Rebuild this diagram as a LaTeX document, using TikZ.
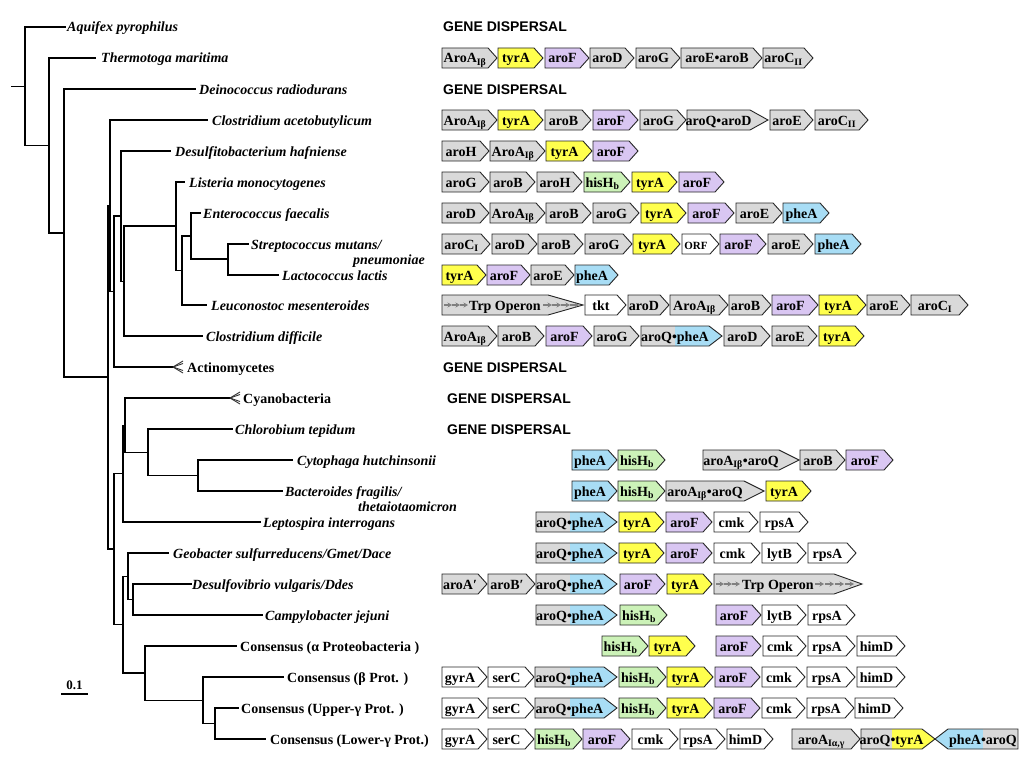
\documentclass[tikz,border=0pt]{standalone}
\usepackage{fontspec}
\setmainfont{Liberation Serif}
\newfontfamily\dispfont{Liberation Sans}
\usetikzlibrary{arrows.meta}
\definecolor{gr}{HTML}{D9D9D9}
\definecolor{ye}{HTML}{FFFF4D}
\definecolor{pu}{HTML}{D9C6F2}
\definecolor{gn}{HTML}{CCF2B8}
\definecolor{bl}{HTML}{A8DDF5}
\definecolor{wh}{HTML}{FFFFFF}
\newcounter{gc}
\newlength\wa
\newlength\wb
\newcommand{\sub}[1]{\textsubscript{#1}}
\newcommand{\genefont}{\fontsize{14}{16}\selectfont\bfseries}
\tikzset{
 tree/.style={line width=1.3pt, black, line cap=rect},
 gene/.style={draw=black!85, line width=0.9pt, line join=miter},
 genetext/.style={inner sep=0pt, anchor=base, font=\genefont},
 taxon/.style={inner sep=0pt, anchor=base west, font=\fontsize{14}{16}\selectfont\bfseries\itshape},
 grouplab/.style={inner sep=0pt, anchor=base west, font=\fontsize{14}{16}\selectfont\bfseries},
 disp/.style={inner sep=0pt, anchor=base west, font=\dispfont\fontsize{14}{16}\selectfont\bfseries},
 trparrow/.style={-{Stealth[length=4.5pt,width=5pt]}, black!50, line width=1.4pt},
 fan/.style={black!80, line width=0.9pt},
}
% plain gene box: [tip]{x1}{x2}{y}{colour}{text}
\newcommand{\gb}[6][9]{%
 \stepcounter{gc}%
 \draw[gene, fill=#5] (#2,#4-10) -- (#3-#1,#4-10) -- (#3,#4) -- (#3-#1,#4+10) -- (#2,#4+10) -- cycle;
 \node[genetext] (g\thegc) at ({(#2+#3-#1)/2},#4+5) {#6};}
% two-colour gene box pointing right: [tip]{x1}{x2}{y}{c1}{c2}{word1}{word2}
\newcommand{\gbt}[8][13]{%
 \stepcounter{gc}%
 \settowidth\wa{\genefont #7}\settowidth\wb{\genefont #7#8}%
 \pgfmathsetmacro\cx{(#2+#3-#1)/2}%
 \pgfmathsetmacro\sx{\cx-\wb/2+\wa}%
 \begin{scope}
 \clip (#2,#4-10) -- (#3-#1,#4-10) -- (#3,#4) -- (#3-#1,#4+10) -- (#2,#4+10) -- cycle;
 \fill[#5] (#2,#4-11) rectangle (\sx,#4+11);
 \fill[#6] (\sx,#4-11) rectangle (#3,#4+11);
 \end{scope}
 \draw[gene] (#2,#4-10) -- (#3-#1,#4-10) -- (#3,#4) -- (#3-#1,#4+10) -- (#2,#4+10) -- cycle;
 \node[genetext] (g\thegc) at (\cx,#4+5) {#7#8};}
% two-colour gene box pointing left: [tip]{x1 tip}{x2}{y}{c1}{c2}{word1}{word2}
\newcommand{\gbl}[8][13]{%
 \stepcounter{gc}%
 \settowidth\wa{\genefont #7}\settowidth\wb{\genefont #7#8}%
 \pgfmathsetmacro\cx{(#2+#1+#3)/2}%
 \pgfmathsetmacro\sx{\cx-\wb/2+\wa}%
 \begin{scope}
 \clip (#2,#4) -- (#2+#1,#4-10) -- (#3,#4-10) -- (#3,#4+10) -- (#2+#1,#4+10) -- cycle;
 \fill[#5] (#2,#4-11) rectangle (\sx,#4+11);
 \fill[#6] (\sx,#4-11) rectangle (#3,#4+11);
 \end{scope}
 \draw[gene] (#2,#4) -- (#2+#1,#4-10) -- (#3,#4-10) -- (#3,#4+10) -- (#2+#1,#4+10) -- cycle;
 \node[genetext] (g\thegc) at (\cx,#4+5) {#7#8};}
% Trp operon box outline: {x1}{x2}{y}{tip}
\newcommand{\trpbox}[4]{%
 \stepcounter{gc}%
 \draw[gene, fill=gr] (#1,#3-10) -- (#2-#4,#3-10) -- (#2,#3) -- (#2-#4,#3+10) -- (#1,#3+10) -- cycle;}
\begin{document}
\begin{tikzpicture}[x=1pt,y=-1pt]
\useasboundingbox (0,0) rectangle (1024,768);
\fill[white] (0,0) rectangle (1024,768);

% ---------------- tree ----------------
\draw[tree] (12,86.25) -- (25,86.25);
\draw[tree] (65,27) -- (25,27) -- (25,145.5) -- (49,145.5);
\draw[tree] (95,58) -- (49,58) -- (49,233) -- (64,233);
\draw[tree] (195,89) -- (64,89) -- (64,377) -- (108,377);
\draw[tree] (110,205.5) -- (108,205.5) -- (108,549) -- (114,549);
\draw[tree] (207,120) -- (110,120) -- (110,291.5) -- (114,291.5);
\draw[tree] (121,216) -- (114,216) -- (114,367) -- (173,367);
\draw[tree] (170,151) -- (121,151) -- (121,281.5) -- (124,281.5);
\draw[tree] (176,226) -- (124,226) -- (124,336) -- (202,336);
\draw[tree] (184,182) -- (176,182) -- (176,270.5) -- (182,270.5);
\draw[tree] (191,236) -- (182,236) -- (182,305) -- (206,305);
\draw[tree] (200,213) -- (191,213) -- (191,259) -- (228,259);
\draw[tree] (248,244) -- (228,244) -- (228,275) -- (278,275);
\draw[tree] (123,473.5) -- (114,473.5) -- (114,624.5) -- (123,624.5);
\draw[tree] (125,425.25) -- (123,425.25) -- (123,522) -- (260,522);
\draw[tree] (230,398) -- (125,398) -- (125,452.25) -- (148,452.25);
\draw[tree] (232,429) -- (148,429) -- (148,475.5) -- (198,475.5);
\draw[tree] (292,460) -- (198,460) -- (198,491) -- (282,491);
\draw[tree] (128,576.25) -- (123,576.25) -- (123,673) -- (145,673);
\draw[tree] (168,553) -- (128,553) -- (128,599.5) -- (133,599.5);
\draw[tree] (191,584) -- (133,584) -- (133,615) -- (262,615);
\draw[tree] (236,646) -- (145,646) -- (145,700.25) -- (203,700.25);
\draw[tree] (283,677) -- (203,677) -- (203,723.5) -- (215,723.5);
\draw[tree] (238,708) -- (215,708) -- (215,739) -- (265,739);
% collapsed clades
\foreach \d in {-6,-3.5,3.5,6} {\draw[fan] (173,367) -- (183,367+\d);}
\foreach \d in {-6,-3.5,3.5,6} {\draw[fan] (230,398) -- (240,398+\d);}

% ---------------- taxon labels ----------------
\node[taxon] (t1) at (67,32) {Aquifex pyrophilus};
\node[taxon] (t2) at (101,63) {Thermotoga maritima};
\node[taxon] (t3) at (199,94) {Deinococcus radiodurans};
\node[taxon] (t4) at (212,125) {Clostridium acetobutylicum};
\node[taxon] (t5) at (175,156) {Desulfitobacterium hafniense};
\node[taxon] (t6) at (189,187) {Listeria monocytogenes};
\node[taxon] (t7) at (203,218) {Enterococcus faecalis};
\node[taxon] (t8) at (251,249) {Streptococcus mutans/};
\node[taxon] (t8b) at (353,264) {pneumoniae};
\node[taxon] (t9) at (282,280) {Lactococcus lactis};
\node[taxon] (t10) at (211,310) {Leuconostoc mesenteroides};
\node[taxon] (t11) at (206,341) {Clostridium difficile};
\node[grouplab] (t12) at (187,372) {Actinomycetes};
\node[grouplab] (t13) at (243,403) {Cyanobacteria};
\node[taxon] (t14) at (235,434) {Chlorobium tepidum};
\node[taxon] (t15) at (297,465) {Cytophaga hutchinsonii};
\node[taxon] (t16) at (285,496) {Bacteroides fragilis/};
\node[taxon] (t16b) at (358,511) {thetaiotaomicron};
\node[taxon] (t17) at (263,527) {Leptospira interrogans};
\node[taxon] (t18) at (173,558) {Geobacter sulfurreducens/Gmet/Dace};
\node[taxon] (t19) at (192,589) {Desulfovibrio vulgaris/Ddes};
\node[taxon] (t20) at (265,620) {Campylobacter jejuni};
\node[grouplab] (t21) at (240,651) {Consensus (α Proteobacteria )};
\node[grouplab] (t22) at (287,682) {Consensus (β Prot. )};
\node[grouplab] (t23) at (241,713) {Consensus (Upper-γ Prot. )};
\node[grouplab] (t24) at (270,744) {Consensus (Lower-γ Prot.)};
% scale bar
\node[inner sep=0pt, anchor=base, font=\fontsize{13}{15}\selectfont\bfseries] (sc) at (74.5,689) {0.1};
\draw[line width=1.2pt] (61,694) -- (88,694);

% ---------------- gene dispersal ----------------
\node[disp] (d1) at (443,32) {GENE DISPERSAL};
\node[disp] (d2) at (443,94) {GENE DISPERSAL};
\node[disp] (d3) at (443,372) {GENE DISPERSAL};
\node[disp] (d4) at (447,403) {GENE DISPERSAL};
\node[disp] (d5) at (447,434) {GENE DISPERSAL};

% ---------------- gene rows ----------------
% Thermotoga
\gb{442}{497}{58}{gr}{AroA\sub{Iβ}}
\gb{498}{543}{58}{ye}{tyrA}
\gb{545}{589}{58}{pu}{aroF}
\gb{590}{634}{58}{gr}{aroD}
\gb{636}{680}{58}{gr}{aroG}
\gb{681}{762}{58}{gr}{aroE•aroB}
\gb{763}{813}{58}{gr}{aroC\sub{II}}
% Clostridium acetobutylicum
\gb{442}{497}{120}{gr}{AroA\sub{Iβ}}
\gb{498}{543}{120}{ye}{tyrA}
\gb{545}{591}{120}{gr}{aroB}
\gb{593}{638}{120}{pu}{aroF}
\gb{640}{686}{120}{gr}{aroG}
\gb[18]{687}{768}{120}{gr}{aroQ•aroD}
\gb{770}{813}{120}{gr}{aroE}
\gb{815}{868}{120}{gr}{aroC\sub{II}}
% Desulfitobacterium
\gb{442}{489}{151}{gr}{aroH}
\gb{490}{545}{151}{gr}{AroA\sub{Iβ}}
\gb{546}{592}{151}{ye}{tyrA}
\gb{593}{638}{151}{pu}{aroF}
% Listeria
\gb{442}{489}{182}{gr}{aroG}
\gb{490}{535}{182}{gr}{aroB}
\gb{537}{582}{182}{gr}{aroH}
\gb{584}{630}{182}{gn}{hisH\sub{b}}
\gb{632}{677}{182}{ye}{tyrA}
\gb{679}{724}{182}{pu}{aroF}
% Enterococcus
\gb{442}{489}{213}{gr}{aroD}
\gb{490}{545}{213}{gr}{AroA\sub{Iβ}}
\gb{546}{591}{213}{gr}{aroB}
\gb{593}{639}{213}{gr}{aroG}
\gb{641}{686}{213}{ye}{tyrA}
\gb{688}{734}{213}{pu}{aroF}
\gb{736}{782}{213}{gr}{aroE}
\gb{783}{829}{213}{bl}{pheA}
% Streptococcus
\gb{442}{490}{244}{gr}{aroC\sub{I}}
\gb{492}{537}{244}{gr}{aroD}
\gb{538}{583}{244}{gr}{aroB}
\gb{585}{632}{244}{gr}{aroG}
\gb{633}{680}{244}{ye}{tyrA}
\gb{682}{719}{244}{wh}{\fontsize{11}{12}\selectfont ORF}
\gb{720}{766}{244}{pu}{aroF}
\gb{768}{813}{244}{gr}{aroE}
\gb{815}{861}{244}{bl}{pheA}
% Lactococcus
\gb{442}{486}{275}{ye}{tyrA}
\gb{487}{530}{275}{pu}{aroF}
\gb{531}{574}{275}{gr}{aroE}
\gb{575}{618}{275}{bl}{pheA}
% Leuconostoc
\trpbox{442}{583}{305}{35}
\node[genetext, anchor=base west] (trp1) at (469,310) {Trp Operon};
\foreach \a in {444,452,460} {\draw[trparrow] (\a,305) -- ++(8,0);}
\foreach \a in {543,552,561,570} {\draw[trparrow] (\a,305) -- ++(9,0);}
\gb{585}{626}{305}{wh}{tkt}
\gb{628}{669}{305}{gr}{aroD}
\gb{670}{728}{305}{gr}{AroA\sub{Iβ}}
\gb{729}{771}{305}{gr}{aroB}
\gb{772}{818}{305}{pu}{aroF}
\gb{819}{866}{305}{ye}{tyrA}
\gb{867}{910}{305}{gr}{aroE}
\gb{911}{968}{305}{gr}{aroC\sub{I}}
% Clostridium difficile
\gb{442}{497}{336}{gr}{AroA\sub{Iβ}}
\gb{498}{544}{336}{gr}{aroB}
\gb{546}{592}{336}{pu}{aroF}
\gb{594}{639}{336}{gr}{aroG}
\gbt{641}{722}{336}{gr}{bl}{aroQ•}{pheA}
\gb{724}{770}{336}{gr}{aroD}
\gb{772}{817}{336}{gr}{aroE}
\gb{819}{864}{336}{ye}{tyrA}
% Cytophaga
\gb{572}{617}{460}{bl}{pheA}
\gb{618}{665}{460}{gn}{hisH\sub{b}}
\gb[20]{703}{799}{460}{gr}{aroA\sub{Iβ}•aroQ}
\gb{800}{845}{460}{gr}{aroB}
\gb{846}{893}{460}{pu}{aroF}
% Bacteroides
\gb{572}{617}{491}{bl}{pheA}
\gb{618}{665}{491}{gn}{hisH\sub{b}}
\gb[20]{666}{764}{491}{gr}{aroA\sub{Iβ}•aroQ}
\gb{766}{811}{491}{ye}{tyrA}
% Leptospira
\gbt{536}{617}{522}{gr}{bl}{aroQ•}{pheA}
\gb{619}{664}{522}{ye}{tyrA}
\gb{666}{712}{522}{pu}{aroF}
\gb{714}{758}{522}{wh}{cmk}
\gb{760}{808}{522}{wh}{rpsA}
% Geobacter
\gbt{536}{617}{553}{gr}{bl}{aroQ•}{pheA}
\gb{619}{664}{553}{ye}{tyrA}
\gb{666}{712}{553}{pu}{aroF}
\gb{714}{760}{553}{wh}{cmk}
\gb{762}{806}{553}{wh}{lytB}
\gb{808}{856}{553}{wh}{rpsA}
% Desulfovibrio
\gb{442}{487}{584}{gr}{aroA′}
\gb{488}{535}{584}{gr}{aroB′}
\gbt{536}{617}{584}{gr}{bl}{aroQ•}{pheA}
\gb{620}{665}{584}{pu}{aroF}
\gb{667}{712}{584}{ye}{tyrA}
\trpbox{714}{862}{584}{28}
\node[genetext, anchor=base west] (trp2) at (742,589) {Trp Operon};
\foreach \a in {716,724,732} {\draw[trparrow] (\a,584) -- ++(8,0);}
\foreach \a in {815,825,835,845} {\draw[trparrow] (\a,584) -- ++(9,0);}
% Campylobacter
\gbt{536}{617}{615}{gr}{bl}{aroQ•}{pheA}
\gb{620}{667}{615}{gn}{hisH\sub{b}}
\gb{716}{761}{615}{pu}{aroF}
\gb{762}{806}{615}{wh}{lytB}
\gb{808}{855}{615}{wh}{rpsA}
% alpha
\gb{602}{648}{646}{gn}{hisH\sub{b}}
\gb{649}{695}{646}{ye}{tyrA}
\gb{716}{761}{646}{pu}{aroF}
\gb{763}{806}{646}{wh}{cmk}
\gb{808}{855}{646}{wh}{rpsA}
\gb{857}{905}{646}{wh}{himD}
% beta
\gb{442}{487}{677}{wh}{gyrA}
\gb{488}{534}{677}{wh}{serC}
\gbt{535}{617}{677}{gr}{bl}{aroQ•}{pheA}
\gb{619}{666}{677}{gn}{hisH\sub{b}}
\gb{667}{713}{677}{ye}{tyrA}
\gb{715}{760}{677}{pu}{aroF}
\gb{762}{805}{677}{wh}{cmk}
\gb{807}{855}{677}{wh}{rpsA}
\gb{857}{905}{677}{wh}{himD}
% upper gamma
\gb{442}{487}{708}{wh}{gyrA}
\gb{488}{534}{708}{wh}{serC}
\gbt{535}{617}{708}{gr}{bl}{aroQ•}{pheA}
\gb{619}{666}{708}{gn}{hisH\sub{b}}
\gb{667}{713}{708}{ye}{tyrA}
\gb{714}{760}{708}{pu}{aroF}
\gb{762}{805}{708}{wh}{cmk}
\gb{807}{854}{708}{wh}{rpsA}
\gb{855}{903}{708}{wh}{himD}
% lower gamma
\gb{442}{487}{739}{wh}{gyrA}
\gb{488}{534}{739}{wh}{serC}
\gb{535}{582}{739}{gn}{hisH\sub{b}}
\gb{583}{630}{739}{pu}{aroF}
\gb{632}{678}{739}{wh}{cmk}
\gb{680}{725}{739}{wh}{rpsA}
\gb{727}{773}{739}{wh}{himD}
\gb{792}{860}{739}{gr}{aroA\sub{Iα,γ}}
\gbt{861}{935}{739}{gr}{ye}{aroQ•}{tyrA}
\gbl{935}{1018}{739}{bl}{gr}{pheA•}{aroQ}
\end{tikzpicture}
\end{document}
